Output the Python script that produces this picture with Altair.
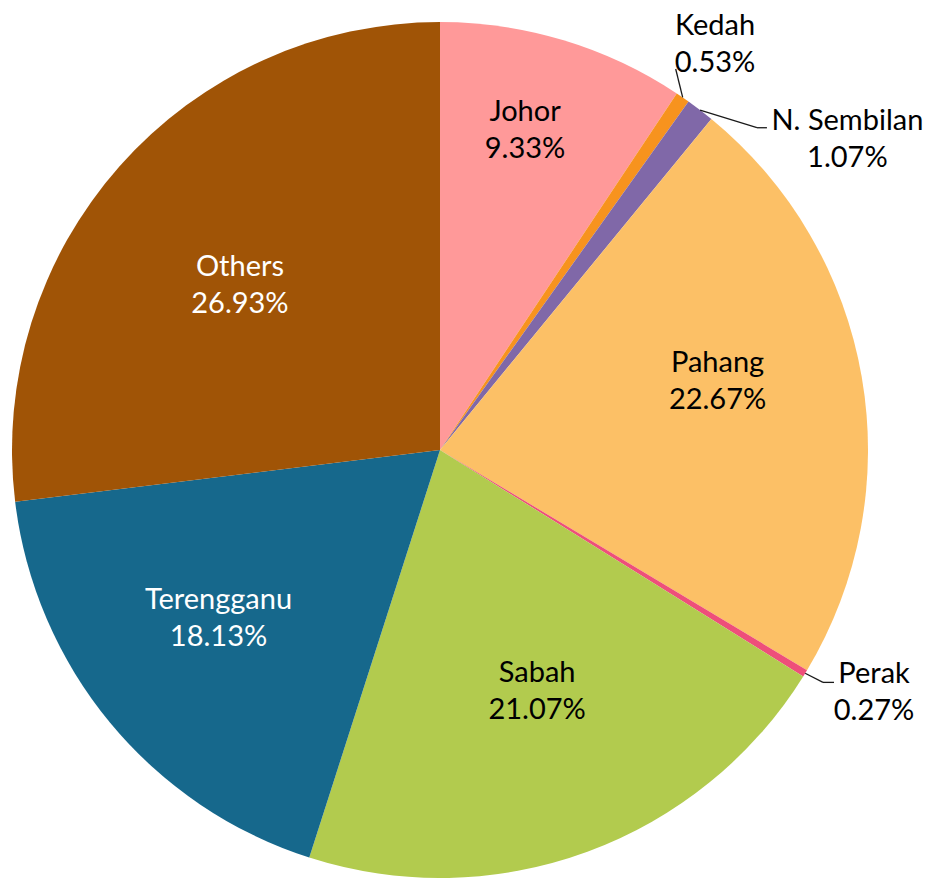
import altair as alt
import pandas as pd

# ---- data ----
categories = ["Johor", "Kedah", "N. Sembilan", "Pahang", "Perak", "Sabah", "Terengganu", "Others"]
shares = [9.33, 0.53, 1.07, 22.67, 0.27, 21.07, 18.13, 26.93]
colors = ["#FF9999", "#F7931E", "#8068A8", "#FCC066", "#EE4F7A", "#B2CB4E", "#16688C", "#A05406"]

df = pd.DataFrame({"cat": categories, "value": shares, "idx": list(range(len(categories)))})

# ---- styling / layout (pixels, chart coordinates) ----
W, H = 915, 870
CX, CY = 432, 442
R = 428
FONT = "Lato"
FS = 29
LINE_GAP = 18.5

# label placement: radius and angle tweak (deg) relative to slice mid-angle
LABEL_R = {"Johor": 331, "Kedah": 490, "N. Sembilan": 512, "Pahang": 286,
           "Perak": 497, "Sabah": 260, "Terengganu": 278, "Others": 259}
LABEL_SHIFT = {"Johor": -1.9, "Kedah": -0.4, "N. Sembilan": 15.3, "Pahang": -4.1,
               "Perak": -2.3, "Sabah": -1.8, "Terengganu": 2.4, "Others": -2.1}
# leader lines for outside labels: elbow radius, elbow angle tweak, horizontal tail
LEADER = {"Kedah": (448, -2.8, 0), "N. Sembilan": (452, 7.1, 10), "Perak": (448, -0.2, 11)}
WHITE_TEXT = ["Others", "Terengganu"]


def lookup(d, default=0):
    expr = str(default)
    for k, v in reversed(list(d.items())):
        expr = f"(datum.cat == '{k}' ? {v} : {expr})"
    return expr


base = alt.Chart(df).transform_joinaggregate(
    total="sum(value)"
).transform_window(
    cum="sum(value)", sort=[alt.SortField("idx", order="ascending")], frame=[None, 0]
).transform_calculate(
    mid="(datum.cum - datum.value / 2) / datum.total * 2 * PI"
)

pie = alt.Chart(df).mark_arc(outerRadius=R, stroke=None).encode(
    theta=alt.Theta("value:Q", stack=True),
    order=alt.Order("idx:Q", sort="ascending"),
    color=alt.Color("cat:N", scale=alt.Scale(domain=categories, range=colors), legend=None),
    x=alt.value(CX),
    y=alt.value(CY),
)

labels = base.transform_calculate(
    la=f"datum.mid + ({lookup(LABEL_SHIFT)}) * PI / 180",
    lr=lookup(LABEL_R, 270),
).transform_calculate(
    lx=f"{CX} + datum.lr * sin(datum.la)",
    ly=f"{CY} - datum.lr * cos(datum.la)",
    pct="format(datum.value, '.2f') + '%'",
)

text_color = alt.condition(
    " || ".join(f"datum.cat == '{c}'" for c in WHITE_TEXT),
    alt.value("white"), alt.value("black"))

name_text = labels.mark_text(font=FONT, fontSize=FS, align="center", baseline="middle", dy=-LINE_GAP).encode(
    x=alt.X("lx:Q", scale=None, axis=None),
    y=alt.Y("ly:Q", scale=None, axis=None),
    text="cat:N",
    color=text_color,
)
pct_text = labels.mark_text(font=FONT, fontSize=FS, align="center", baseline="middle", dy=LINE_GAP).encode(
    x=alt.X("lx:Q", scale=None, axis=None),
    y=alt.Y("ly:Q", scale=None, axis=None),
    text="pct:N",
    color=text_color,
)

leader_r = {k: v[0] for k, v in LEADER.items()}
leader_a = {k: v[1] for k, v in LEADER.items()}
leader_h = {k: v[2] for k, v in LEADER.items()}
leaders = base.transform_filter(
    alt.FieldOneOfPredicate(field="cat", oneOf=list(LEADER.keys()))
).transform_calculate(
    ex=f"{CX} + {R} * sin(datum.mid)",
    ey=f"{CY} - {R} * cos(datum.mid)",
    ba=f"datum.mid + ({lookup(leader_a)}) * PI / 180",
    br=lookup(leader_r, R),
    hl=lookup(leader_h),
).transform_calculate(
    bx=f"{CX} + datum.br * sin(datum.ba)",
    by=f"{CY} - datum.br * cos(datum.ba)",
).transform_calculate(
    hx="datum.bx + datum.hl",
)

seg1 = leaders.mark_rule(color="#1a1a1a", strokeWidth=1.3).encode(
    x=alt.X("ex:Q", scale=None, axis=None),
    y=alt.Y("ey:Q", scale=None, axis=None),
    x2="bx:Q",
    y2="by:Q",
)
seg2 = leaders.transform_filter("datum.hl > 0").mark_rule(color="#1a1a1a", strokeWidth=1.3).encode(
    x=alt.X("bx:Q", scale=None, axis=None),
    y=alt.Y("by:Q", scale=None, axis=None),
    x2="hx:Q",
    y2="by:Q",
)

chart = alt.layer(pie, seg1, seg2, name_text, pct_text).properties(
    width=W, height=H, padding=0, autosize=alt.AutoSizeParams(type="none"),
    background="white",
).configure_view(stroke=None)

chart.save("out.html", embed_options={"renderer": "svg", "actions": False})
